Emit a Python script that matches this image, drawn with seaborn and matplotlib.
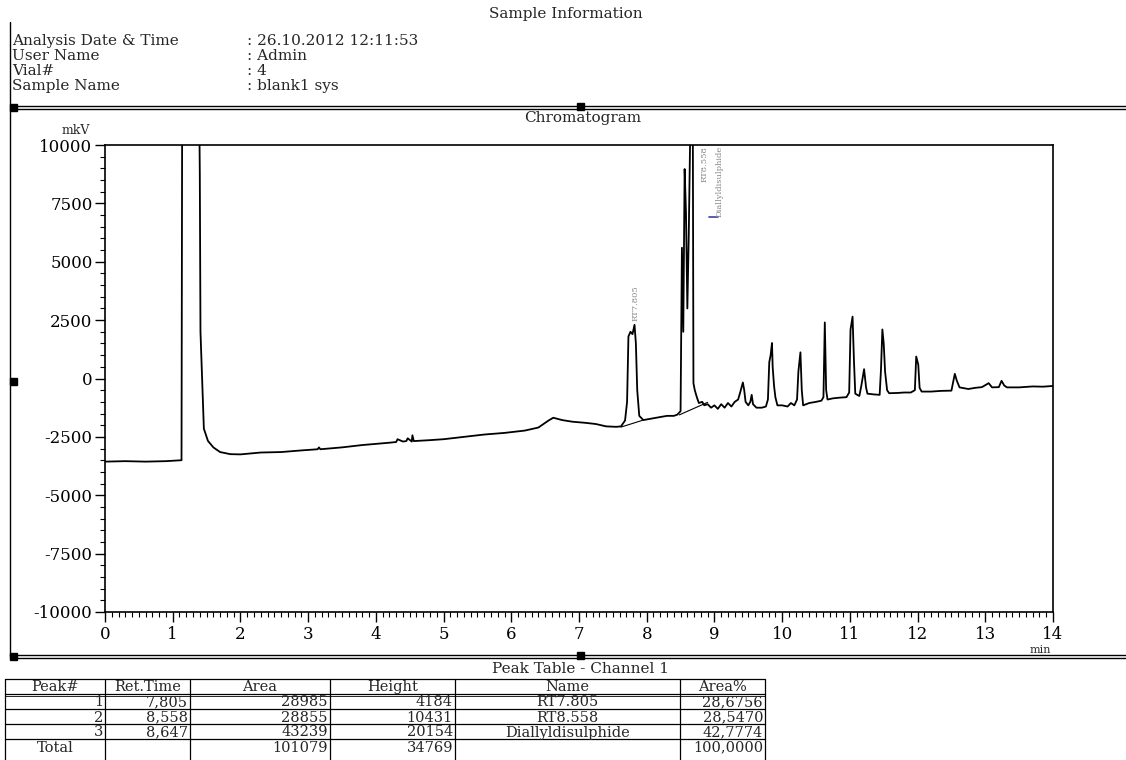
import numpy as np
import pandas as pd
import matplotlib
matplotlib.use("Agg")
import matplotlib.pyplot as plt
import seaborn as sns
from matplotlib.ticker import MultipleLocator

# ---------------- data ----------------
time_min = [0.00, 0.30, 0.60, 0.90, 1.13, 1.14, 1.39, 1.40, 1.41, 1.46, 1.52, 1.60, 1.70, 1.85,
            2.00, 2.30, 2.60, 2.90, 3.14, 3.16, 3.18, 3.50, 3.80, 4.00, 4.20, 4.30, 4.32, 4.40,
            4.45, 4.47, 4.53, 4.54, 4.56, 4.80, 5.00, 5.30, 5.60, 5.90, 6.20, 6.40, 6.55, 6.62,
            6.75, 6.90, 7.10, 7.25, 7.40, 7.55, 7.62, 7.68, 7.71, 7.73, 7.76, 7.79, 7.82, 7.84,
            7.86, 7.89, 7.95, 8.10, 8.20, 8.30, 8.40, 8.45, 8.50, 8.52, 8.54, 8.56, 8.58, 8.60,
            8.62, 8.65, 8.68, 8.69, 8.71, 8.74, 8.77, 8.82, 8.85, 8.90, 8.95, 9.00, 9.05, 9.10,
            9.15, 9.20, 9.25, 9.30, 9.35, 9.38, 9.42, 9.44, 9.46, 9.50, 9.53, 9.55, 9.57, 9.62,
            9.70, 9.76, 9.79, 9.81, 9.83, 9.85, 9.86, 9.88, 9.90, 9.93, 10.00, 10.08, 10.13,
            10.18, 10.22, 10.24, 10.27, 10.29, 10.31, 10.40, 10.50, 10.58, 10.61, 10.63, 10.65,
            10.67, 10.75, 10.85, 10.95, 10.99, 11.01, 11.04, 11.06, 11.08, 11.14, 11.17, 11.21,
            11.24, 11.26, 11.35, 11.44, 11.46, 11.48, 11.50, 11.52, 11.55, 11.58, 11.70, 11.80,
            11.90, 11.96, 11.98, 12.01, 12.03, 12.06, 12.20, 12.35, 12.50, 12.55, 12.58, 12.62,
            12.75, 12.85, 12.95, 13.05, 13.10, 13.20, 13.24, 13.28, 13.32, 13.50, 13.60, 13.70,
            13.85, 14.00]
signal_mkv = [-3560, -3540, -3560, -3540, -3500, 12000, 12000, 8800, 2000, -2150, -2670, -2950,
              -3150, -3240, -3250, -3170, -3150, -3080, -3030, -2950, -3030, -2950, -2850, -2800,
              -2750, -2720, -2600, -2700, -2680, -2560, -2700, -2430, -2680, -2640, -2600, -2500,
              -2400, -2330, -2230, -2100, -1800, -1680, -1780, -1850, -1900, -1950, -2050, -2070,
              -2050, -1800, -1000, 1800, 2000, 1900, 2300, 1500, -500, -1600, -1780, -1700, -1650,
              -1600, -1600, -1550, -1400, 5600, 2000, 8970, 7100, 3000, 6000, 12000, 12000, -200,
              -500, -800, -1050, -1000, -1150, -1100, -1250, -1150, -1300, -1100, -1250, -1050,
              -1200, -1000, -900, -600, -170, -500, -1000, -1150, -1000, -700, -1100, -1250, -1250,
              -1200, -900, 700, 1000, 1520, 500, -300, -800, -1150, -1150, -1200, -1050, -1150,
              -900, 300, 1120, -500, -1150, -1050, -1000, -950, -800, 2400, -500, -900, -850, -820,
              -800, -600, 2100, 2650, 800, -650, -750, -300, 400, -400, -650, -680, -700, 400, 2100,
              1500, 300, -500, -630, -620, -600, -600, -500, 940, 600, -400, -560, -560, -530, -520,
              200, -100, -380, -450, -400, -370, -200, -380, -370, -100, -300, -380, -380, -360,
              -340, -350, -320]

# integration baselines drawn under the named peaks
baseline1_t = [7.62, 7.95]
baseline1_v = [-2080, -1780]
baseline2_t = [8.48, 8.90]
baseline2_v = [-1560, -1020]

y_ticks = [-10000, -7500, -5000, -2500, 0, 2500, 5000, 7500, 10000]
x_ticks = list(range(0, 15))

peak_label_text = ["RT7.805", "RT8.558", "Diallyldisulphide"]
peak_label_t = [7.84, 8.86, 9.08]
peak_label_v = [2450, 9950, 9950]

info_labels = ["Analysis Date & Time", "User Name", "Vial#", "Sample Name"]
info_values = [": 26.10.2012 12:11:53", ": Admin", ": 4", ": blank1 sys"]

table_columns = ["Peak#", "Ret.Time", "Area", "Height", "Name", "Area%"]
col_peak = ["1", "2", "3", "Total"]
col_ret = ["7,805", "8,558", "8,647", ""]
col_area = ["28985", "28855", "43239", "101079"]
col_height = ["4184", "10431", "20154", "34769"]
col_name = ["RT7.805", "RT8.558", "Diallyldisulphide", ""]
col_pct = ["28,6756", "28,5470", "42,7774", "100,0000"]

# ---------------- figure ----------------
sns.set_style("white")
plt.rcParams["font.family"] = ["DejaVu Serif"]
plt.rcParams["axes.unicode_minus"] = False
W, H = 1126, 760
fig = plt.figure(figsize=(W / 100, H / 100), dpi=100)

bg = fig.add_axes([0, 0, 1, 1])
bg.set_xlim(0, W)
bg.set_ylim(H, 0)
bg.axis("off")

FS = 11
bg.text(566, 14, "Sample Information", ha="center", va="center", fontsize=FS)
for i, (lab, val) in enumerate(zip(info_labels, info_values)):
    y = 41 + i * 15
    bg.text(12, y, lab, ha="left", va="center", fontsize=FS)
    bg.text(247, y, val, ha="left", va="center", fontsize=FS)

for yy in (106, 108.5):
    bg.plot([10, W], [yy, yy], color="black", lw=1.0)
for yy in (655, 657.5):
    bg.plot([10, W], [yy, yy], color="black", lw=1.0)
bg.plot([10, 10], [22, 657], color="black", lw=1.0)
for (sx, sy) in [(13, 107), (580, 106), (13, 381), (13, 656), (580, 655)]:
    bg.add_patch(plt.Rectangle((sx - 3.5, sy - 3.5), 7, 7, color="black"))

bg.text(583, 118, "Chromatogram", ha="center", va="center", fontsize=FS)
bg.text(76, 130, "mkV", ha="center", va="center", fontsize=9)
bg.text(1040, 650, "min", ha="center", va="center", fontsize=8)

# ---------------- chromatogram ----------------
ax = fig.add_axes([105 / W, 1 - 612 / H, (1053 - 105) / W, (612 - 145) / H])
df = pd.DataFrame({"t": time_min, "v": signal_mkv})
sns.lineplot(data=df, x="t", y="v", sort=False, estimator=None, color="black", lw=1.3, ax=ax)
ax.plot(baseline1_t, baseline1_v, color="black", lw=0.8)
ax.plot(baseline2_t, baseline2_v, color="black", lw=0.8)
ax.set_xlim(0, 14)
ax.set_ylim(-10000, 10000)
ax.set_xticks(x_ticks)
ax.set_yticks(y_ticks)
ax.xaxis.set_minor_locator(MultipleLocator(0.1))
ax.yaxis.set_minor_locator(MultipleLocator(500))
ax.tick_params(axis="both", which="major", direction="out", length=7, width=1.0,
               labelsize=12, color="black", labelcolor="black")
ax.tick_params(axis="x", which="major", pad=3)
ax.tick_params(axis="y", which="major", pad=2)
ax.tick_params(axis="both", which="minor", direction="out", length=3.5, width=0.8, color="black")
ax.tick_params(bottom=True, left=True, which="both")
ax.set_xlabel("")
ax.set_ylabel("")
for sp in ax.spines.values():
    sp.set_color("black")
    sp.set_linewidth(1.2)
ax.set_facecolor("white")

for txt, tt, vv in zip(peak_label_text, peak_label_t, peak_label_v):
    ax.text(tt, vv, txt, rotation=90, ha="center", va="bottom" if vv < 9000 else "top",
            fontsize=6, color="#888888")
ax.plot([8.92, 9.05], [6900, 6900], color="#4040a0", lw=1.2)

# ---------------- peak table ----------------
bg.text(580, 669, "Peak Table - Channel 1", ha="center", va="center", fontsize=FS)
col_edges = [5, 105, 190, 330, 455, 680, 765]
row_edges = [679, 694, 709, 724, 739, 754]
for xe in col_edges:
    bg.plot([xe, xe], [row_edges[0], H], color="black", lw=0.9)
for ye in row_edges[:-1]:
    bg.plot([col_edges[0], col_edges[-1]], [ye, ye], color="black", lw=0.9)
bg.plot([col_edges[0], col_edges[-1]], [row_edges[1] + 1.5, row_edges[1] + 1.5], color="black", lw=0.6)

TFS = 10.5
for j, head in enumerate(table_columns):
    bg.text((col_edges[j] + col_edges[j + 1]) / 2, (row_edges[0] + row_edges[1]) / 2 + 0.5, head,
            ha="center", va="center", fontsize=TFS)
columns = [col_peak, col_ret, col_area, col_height, col_name, col_pct]
for r in range(4):
    yc = (row_edges[r + 1] + row_edges[r + 2]) / 2 + 1
    for j, col in enumerate(columns):
        val = col[r]
        if not val:
            continue
        if j == 4:
            bg.text((col_edges[j] + col_edges[j + 1]) / 2, yc, val, ha="center", va="center", fontsize=TFS)
        elif j == 0 and val == "Total":
            bg.text((col_edges[0] + col_edges[1]) / 2, yc, val, ha="center", va="center", fontsize=TFS)
        else:
            bg.text(col_edges[j + 1] - 2, yc, val, ha="right", va="center", fontsize=TFS)

fig.savefig("out.png", dpi=100)
